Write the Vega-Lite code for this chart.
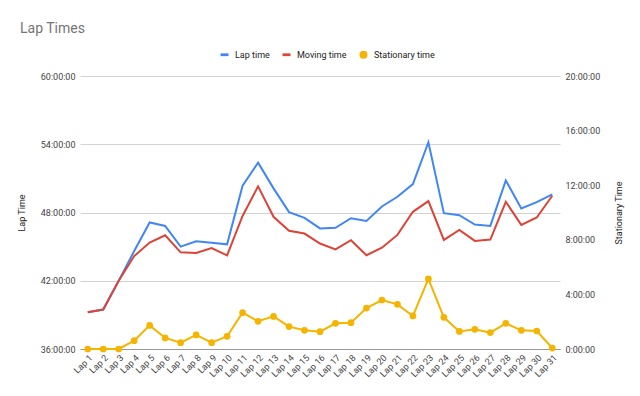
{
  "$schema": "https://vega.github.io/schema/vega-lite/v6.json",
  "autosize": {"type": "none"},
  "width": 480,
  "height": 273,
  "padding": {"left": 80, "top": 76, "right": 80, "bottom": 47},
  "background": "white",
  "title": {
    "text": "Lap Times",
    "anchor": "start",
    "frame": "group",
    "font": "Roboto",
    "fontSize": 14,
    "fontWeight": "normal",
    "color": "#757575",
    "dx": -60,
    "offset": 14
  },
  "config": {
    "view": {"stroke": null},
    "font": "Roboto",
    "axis": {"labelFont": "Roboto", "titleFont": "Roboto", "labelColor": "#444", "titleColor": "#222", "labelFontSize": 9, "titleFontSize": 9, "titleFontWeight": "normal"}
  },
  "data": {
    "values": [
      {"lap": "Lap 1", "Lap time": 39.23, "Moving time": 39.23, "Stationary time": 0},
      {"lap": "Lap 2", "Lap time": 39.47, "Moving time": 39.47, "Stationary time": 0},
      {"lap": "Lap 3", "Lap time": 42.0, "Moving time": 42.0, "Stationary time": 0},
      {"lap": "Lap 4", "Lap time": 44.61, "Moving time": 44.17, "Stationary time": 0.61},
      {"lap": "Lap 5", "Lap time": 47.12, "Moving time": 45.36, "Stationary time": 1.73},
      {"lap": "Lap 6", "Lap time": 46.82, "Moving time": 46.0, "Stationary time": 0.81},
      {"lap": "Lap 7", "Lap time": 45.0, "Moving time": 44.5, "Stationary time": 0.46},
      {"lap": "Lap 8", "Lap time": 45.47, "Moving time": 44.44, "Stationary time": 1.03},
      {"lap": "Lap 9", "Lap time": 45.35, "Moving time": 44.88, "Stationary time": 0.46},
      {"lap": "Lap 10", "Lap time": 45.2, "Moving time": 44.23, "Stationary time": 0.93},
      {"lap": "Lap 11", "Lap time": 50.35, "Moving time": 47.7, "Stationary time": 2.66},
      {"lap": "Lap 12", "Lap time": 52.38, "Moving time": 50.3, "Stationary time": 2.03},
      {"lap": "Lap 13", "Lap time": 50.12, "Moving time": 47.62, "Stationary time": 2.39},
      {"lap": "Lap 14", "Lap time": 48.03, "Moving time": 46.4, "Stationary time": 1.64},
      {"lap": "Lap 15", "Lap time": 47.53, "Moving time": 46.15, "Stationary time": 1.37},
      {"lap": "Lap 16", "Lap time": 46.6, "Moving time": 45.27, "Stationary time": 1.27},
      {"lap": "Lap 17", "Lap time": 46.65, "Moving time": 44.76, "Stationary time": 1.88},
      {"lap": "Lap 18", "Lap time": 47.5, "Moving time": 45.56, "Stationary time": 1.93},
      {"lap": "Lap 19", "Lap time": 47.26, "Moving time": 44.24, "Stationary time": 3.0},
      {"lap": "Lap 20", "Lap time": 48.53, "Moving time": 44.91, "Stationary time": 3.59},
      {"lap": "Lap 21", "Lap time": 49.38, "Moving time": 46.03, "Stationary time": 3.27},
      {"lap": "Lap 22", "Lap time": 50.5, "Moving time": 48.06, "Stationary time": 2.42},
      {"lap": "Lap 23", "Lap time": 54.18, "Moving time": 49.0, "Stationary time": 5.13},
      {"lap": "Lap 24", "Lap time": 47.94, "Moving time": 45.59, "Stationary time": 2.32},
      {"lap": "Lap 25", "Lap time": 47.76, "Moving time": 46.47, "Stationary time": 1.29},
      {"lap": "Lap 26", "Lap time": 46.94, "Moving time": 45.5, "Stationary time": 1.44},
      {"lap": "Lap 27", "Lap time": 46.82, "Moving time": 45.62, "Stationary time": 1.2},
      {"lap": "Lap 28", "Lap time": 50.82, "Moving time": 48.94, "Stationary time": 1.88},
      {"lap": "Lap 29", "Lap time": 48.35, "Moving time": 46.91, "Stationary time": 1.37},
      {"lap": "Lap 30", "Lap time": 48.91, "Moving time": 47.56, "Stationary time": 1.32},
      {"lap": "Lap 31", "Lap time": 49.59, "Moving time": 49.47, "Stationary time": 0.07}
    ]
  },
  "transform": [{"fold": ["Lap time", "Moving time", "Stationary time"], "as": ["series", "value"]}],
  "encoding": {
    "x": {
      "field": "lap",
      "type": "ordinal",
      "sort": null,
      "title": null,
      "axis": {"labelAngle": -45, "ticks": false, "domainColor": "#999", "labelPadding": 4, "grid": false}
    },
    "color": {
      "field": "series",
      "type": "nominal",
      "scale": {"domain": ["Lap time", "Moving time", "Stationary time"], "range": ["#4285F4", "#DB4437", "#F4B400"]},
      "legend": {
        "orient": "none",
        "legendX": 140,
        "legendY": -26,
        "direction": "horizontal",
        "title": null,
        "padding": 0,
        "symbolSize": 64,
        "labelFont": "Roboto",
        "labelFontSize": 9,
        "labelColor": "#222",
        "labelOffset": 6,
        "columnPadding": 12,
        "encode": {
          "symbols": {
            "update": {
              "shape": {"signal": "datum.value === 'Stationary time' ? 'circle' : 'M-1,-0.35H1V0.35H-1Z'"},
              "fill": {"scale": "color", "field": "value"},
              "stroke": {"value": "transparent"},
              "strokeWidth": {"value": 0},
              "opacity": {"value": 1}
            }
          }
        }
      }
    }
  },
  "layer": [
    {
      "transform": [{"filter": "datum.series !== 'Stationary time'"}],
      "mark": {"type": "line", "strokeWidth": 2},
      "encoding": {
        "y": {
          "field": "value",
          "type": "quantitative",
          "scale": {"domain": [36, 60], "nice": false, "zero": false},
          "axis": {
            "orient": "left",
            "title": "Lap Time",
            "values": [36, 42, 48, 54, 60],
            "labelExpr": "datum.value + ':00:00'",
            "domain": false,
            "ticks": false,
            "grid": true,
            "gridColor": "#d3d3d3",
            "labelPadding": 5,
            "titlePadding": 14
          }
        }
      }
    },
    {
      "transform": [{"filter": "datum.series === 'Stationary time'"}],
      "encoding": {
        "y": {
          "field": "value",
          "type": "quantitative",
          "scale": {"domain": [0, 20], "nice": false},
          "axis": {
            "orient": "right",
            "title": "Stationary Time",
            "values": [0, 4, 8, 12, 16, 20],
            "labelExpr": "datum.value + ':00:00'",
            "domain": false,
            "ticks": false,
            "grid": false,
            "labelPadding": 5,
            "titlePadding": 24,
            "titleAngle": 270
          }
        }
      },
      "layer": [
        {"mark": {"type": "line", "strokeWidth": 2}},
        {"mark": {"type": "point", "filled": true, "size": 45, "opacity": 1}}
      ]
    }
  ],
  "resolve": {"scale": {"y": "independent"}}
}
